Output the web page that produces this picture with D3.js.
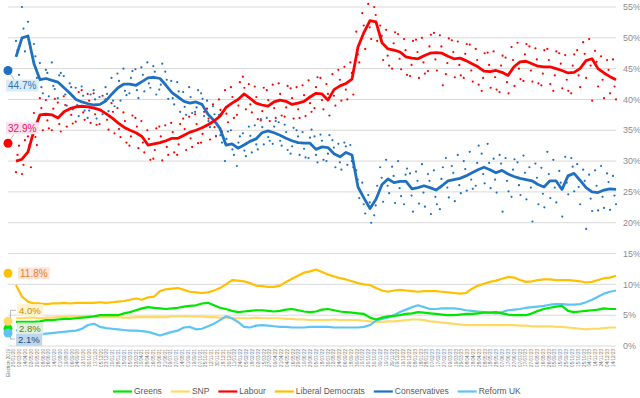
<!DOCTYPE html>
<html>
<head>
<meta charset="utf-8">
<script src="https://cdn.jsdelivr.net/npm/d3@7"></script>
<style>
body { margin: 0; background: #fff; }
text { font-family: "Liberation Sans", Arial, sans-serif; }
</style>
</head>
<body>
<div id="chart"></div>
<script>
const width = 640, height = 398;
const plot = { left: 8, right: 616, top: 7, bottom: 346 };

// tick labels along the bottom (one per block of polls)
const pollLabels = ['Election 2019',
    '20/01/20', '02/03/20', '14/04/20', '02/05/20', '20/05/20', '08/06/20', '26/06/20', '14/07/20', '01/08/20', '19/08/20',
    '06/09/20', '24/09/20', '12/10/20', '30/10/20', '17/11/20', '05/12/20', '23/12/20', '10/01/21', '28/01/21', '15/02/21',
    '05/03/21', '23/03/21', '10/04/21', '28/04/21', '16/05/21', '03/06/21', '21/06/21', '09/07/21', '27/07/21', '14/08/21',
    '01/09/21', '19/09/21', '07/10/21', '25/10/21', '12/11/21', '30/11/21', '18/12/21', '30/12/21', '11/01/22', '24/01/22',
    '05/02/22', '18/02/22', '02/03/22', '15/03/22', '27/03/22', '09/04/22', '21/04/22', '04/05/22', '16/05/22', '29/05/22',
    '10/06/22', '23/06/22', '05/07/22', '18/07/22', '30/07/22', '12/08/22', '24/08/22', '06/09/22', '18/09/22', '30/09/22',
    '10/10/22', '20/10/22', '30/10/22', '09/11/22', '19/11/22', '29/11/22', '09/12/22', '19/12/22', '29/12/22', '08/01/23',
    '18/01/23', '28/01/23', '07/02/23', '17/02/23', '27/02/23', '09/03/23', '19/03/23', '29/03/23', '08/04/23', '18/04/23',
    '28/04/23', '08/05/23', '18/05/23', '28/05/23', '07/06/23', '17/06/23', '27/06/23', '07/07/23', '17/07/23', '27/07/23',
    '06/08/23', '16/08/23', '26/08/23', '05/09/23', '15/09/23', '25/09/23', '05/10/23', '15/10/23', '25/10/23', '04/11/23',
    '14/11/23', '24/11/23', '04/12/23', '14/12/23'];

const yTicks = [0, 5, 10, 15, 20, 25, 30, 35, 40, 45, 50, 55];

// rolling averages (%), evenly spaced through the poll sequence
const conLine = [46.9, 50.0, 50.3, 45.8, 43.2, 43.4, 43.1, 42.8, 41.9, 41.0,
    40.0, 39.6, 39.3, 39.1, 39.2, 39.8, 40.9, 41.9, 42.5, 42.5,
    42.3, 42.9, 43.5, 43.6, 43.4, 42.3, 41.1, 40.4, 39.7, 39.4,
    39.6, 39.2, 37.6, 36.6, 35.3, 32.6, 32.8, 32.1, 32.6, 33.2,
    33.6, 34.6, 34.9, 34.6, 34.2, 33.7, 33.3, 33.0, 32.9, 32.9,
    31.9, 32.3, 32.2, 31.2, 30.7, 31.4, 31.0, 25.8, 24.0, 22.3,
    23.8, 26.2, 27.1, 26.5, 26.7, 26.7, 25.5, 25.7, 26.0, 25.7,
    25.3, 26.0, 26.8, 27.0, 27.2, 27.6, 28.1, 28.6, 29.0, 28.6,
    28.1, 28.5, 27.9, 27.5, 27.2, 27.0, 26.8, 26.2, 25.8, 26.8,
    26.8, 25.4, 27.6, 28.0, 26.9, 25.7, 25.0, 24.9, 25.3, 25.5,
    25.4];
const labLine = [30.0, 30.3, 31.5, 35.0, 37.5, 37.6, 37.5, 37.0, 38.0, 38.5,
    38.8, 38.9, 38.8, 38.6, 38.3, 37.7, 37.0, 36.2, 35.5, 35.0,
    34.6, 34.0, 32.6, 32.8, 33.0, 33.3, 33.7, 33.7, 34.2, 34.7,
    35.0, 35.4, 35.9, 36.5, 37.3, 38.7, 39.4, 40.0, 40.9, 40.2,
    39.4, 39.1, 38.9, 39.6, 39.9, 39.7, 39.2, 39.4, 39.7, 40.4,
    41.0, 40.9, 39.9, 41.6, 42.2, 42.6, 43.3, 48.5, 50.9, 52.8,
    52.6, 49.2, 48.2, 48.0, 47.7, 46.9, 46.7, 46.6, 47.1, 47.5,
    47.6, 47.5, 47.0, 46.6, 46.7, 46.3, 45.8, 45.3, 44.6, 44.5,
    44.7, 44.4, 43.9, 45.3, 46.1, 46.2, 45.8, 45.4, 45.3, 45.3,
    45.0, 44.7, 44.3, 44.4, 45.0, 46.3, 46.6, 45.0, 44.3, 43.7,
    43.2];
const ldLine = [9.9, 8.0, 7.2, 6.9, 6.9, 6.8, 6.9, 6.9, 7.0, 6.9,
    7.0, 7.0, 7.0, 7.0, 7.1, 7.0, 7.1, 7.2, 7.3, 7.5,
    7.7, 7.5, 7.9, 8.0, 8.9, 9.2, 9.3, 9.4, 9.1, 8.8,
    8.7, 8.6, 8.7, 9.0, 9.4, 10.0, 10.7, 10.6, 10.5, 10.2,
    9.8, 9.7, 9.6, 9.6, 9.8, 10.4, 10.9, 11.4, 11.9, 12.1,
    12.4, 12.0, 11.6, 11.3, 11.0, 10.8, 10.5, 10.2, 10.0, 9.9,
    9.4, 9.0, 8.8, 9.0, 9.1, 9.0, 8.9, 8.8, 8.9, 8.9,
    8.9, 8.8, 8.7, 8.6, 8.5, 8.6, 9.3, 9.8, 10.1, 10.4,
    10.6, 10.9, 11.2, 11.1, 10.7, 10.4, 10.5, 10.7, 10.8, 10.8,
    10.7, 10.7, 10.7, 10.6, 10.5, 10.3, 10.4, 10.7, 11.0, 11.1,
    11.4];
const greenLine = [3.9, 3.9, 3.9, 3.9, 4.0, 4.2, 4.2, 4.3, 4.4, 4.4,
    4.5, 4.6, 4.7, 4.8, 5.0, 5.0, 5.0, 5.0, 5.3, 5.5,
    5.8, 6.1, 6.3, 6.2, 6.1, 6.0, 6.1, 6.2, 6.4, 6.5,
    6.6, 6.9, 7.0, 6.6, 6.2, 6.0, 5.7, 5.5, 5.6, 5.7,
    5.8, 5.8, 5.7, 5.6, 5.7, 5.9, 6.0, 5.8, 5.6, 5.5,
    5.6, 5.9, 6.0, 5.8, 5.6, 5.5, 5.4, 5.3, 5.2, 4.6,
    4.3, 4.6, 4.8, 4.9, 5.0, 5.2, 5.3, 5.5, 5.4, 5.3,
    5.2, 5.1, 5.0, 5.0, 5.1, 5.2, 5.2, 5.3, 5.4, 5.4,
    5.5, 5.3, 5.1, 5.0, 5.0, 5.0, 5.3, 5.7, 6.0, 6.2,
    6.4, 6.5, 5.7, 5.5, 5.6, 5.7, 5.8, 5.9, 6.1, 6.0,
    6.0];
const snpLine = [4.5, 4.5, 4.6, 4.6, 4.5, 4.6, 4.6, 4.7, 4.7, 4.8,
    4.8, 4.8, 4.9, 4.8, 4.7, 4.7, 4.7, 4.7, 4.6, 4.6,
    4.7, 4.7, 4.7, 4.7, 4.7, 4.7, 4.8, 4.8, 4.8, 4.8,
    4.8, 4.8, 4.7, 4.7, 4.6, 4.6, 4.5, 4.5, 4.5, 4.5,
    4.6, 4.5, 4.5, 4.5, 4.5, 4.4, 4.4, 4.3, 4.3, 4.2,
    4.2, 4.2, 4.2, 4.3, 4.2, 4.2, 4.2, 4.2, 4.1, 4.0,
    3.9, 3.9, 4.0, 4.0, 4.1, 4.2, 4.3, 4.3, 4.2, 4.0,
    3.9, 3.8, 3.7, 3.6, 3.5, 3.4, 3.4, 3.4, 3.4, 3.4,
    3.4, 3.4, 3.4, 3.4, 3.3, 3.3, 3.2, 3.2, 3.2, 3.2,
    3.1, 3.1, 3.0, 2.9, 2.8, 2.7, 2.8, 2.8, 2.9, 3.0,
    3.0];
const reformLine = [2.6, 2.2, 1.9, 1.8, 1.9, 2.0, 2.1, 2.2, 2.3, 2.4,
    2.5, 2.8, 3.4, 3.6, 3.1, 2.9, 2.8, 2.7, 2.6, 2.5,
    2.5, 2.4, 2.3, 2.0, 1.7, 2.0, 2.3, 2.5, 3.0, 3.1,
    2.7, 2.8, 3.2, 3.6, 4.2, 4.8, 4.5, 3.9, 3.1, 3.0,
    3.3, 3.4, 3.3, 3.2, 3.1, 3.1, 3.0, 3.0, 3.0, 3.1,
    3.1, 3.1, 3.1, 3.0, 3.0, 3.0, 3.0, 3.0, 3.1, 3.4,
    4.1, 4.4, 4.6, 5.0, 5.5, 5.9, 6.3, 6.6, 6.3, 6.0,
    6.0, 6.1, 6.1, 6.1, 6.0, 5.8, 5.7, 5.6, 5.5, 5.4,
    5.3, 5.5, 5.8, 5.9, 6.0, 6.2, 6.3, 6.4, 6.5, 6.7,
    6.8, 6.8, 6.7, 6.7, 6.8, 7.1, 7.5, 8.0, 8.5, 8.8,
    9.0];

// individual polls (%), evenly spaced through the poll sequence
const conDots = [49.5, 44.0, 55.0, 47.8, 52.6, 48.1, 49.0, 43.5, 45.9, 41.0,
    44.8, 40.5, 46.0, 41.7, 40.2, 44.3, 43.8, 39.0, 42.6, 38.4,
    41.9, 37.3, 42.1, 38.2, 37.0, 40.8, 41.5, 36.9, 40.4, 37.6,
    42.0, 38.1, 43.5, 38.9, 44.2, 39.8, 45.0, 40.7, 41.0, 44.6,
    44.9, 40.2, 45.2, 41.3, 46.0, 41.9, 45.4, 40.8, 41.6, 45.8,
    44.5, 40.1, 43.0, 39.2, 42.8, 38.0, 41.2, 37.5, 42.0, 37.8,
    38.0, 41.5, 41.0, 37.3, 39.8, 35.5, 38.9, 34.1, 37.5, 33.0,
    30.0, 34.8, 35.0, 31.0, 29.2, 34.0, 34.5, 30.8, 35.6, 31.4,
    35.8, 31.9, 36.8, 32.7, 37.0, 33.3, 32.8, 36.5, 36.3, 32.5,
    35.9, 31.8, 31.2, 35.4, 35.0, 31.0, 34.7, 30.6, 30.5, 35.1,
    34.0, 29.8, 34.3, 30.2, 30.0, 34.2, 33.4, 29.0, 32.8, 28.6,
    33.0, 29.4, 32.6, 29.0, 28.5, 24.0, 26.5, 21.5, 24.5, 20.0,
    21.2, 26.0, 29.0, 23.4, 30.2, 24.8, 29.1, 23.2, 30.0, 24.3,
    23.0, 28.8, 28.0, 21.8, 28.3, 23.1, 29.5, 22.6, 27.9, 21.4,
    28.5, 23.0, 22.2, 29.0, 30.5, 24.1, 29.2, 23.5, 31.0, 24.8,
    30.0, 25.2, 31.5, 25.5, 26.0, 32.5, 31.2, 26.4, 32.8, 25.6,
    30.4, 24.9, 31.0, 21.8, 30.5, 25.1, 24.2, 30.3, 29.8, 24.5,
    30.9, 23.8, 29.0, 20.2, 29.6, 23.0, 28.9, 22.5, 31.5, 24.0,
    30.2, 23.3, 28.4, 21.0, 30.7, 24.6, 30.5, 25.1, 29.5, 23.0,
    28.6, 19.0, 27.8, 21.9, 28.5, 22.0, 29.2, 22.4, 28.0, 22.1,
    27.6, 23.0];
const conNear = [48.0, 51.5, 49.2, 47.0, 42.0, 44.3, 42.2, 43.9, 40.8, 42.0,
    39.1, 40.6, 38.2, 40.0, 38.3, 40.9, 39.8, 43.0, 41.4, 43.5,
    41.5, 44.0, 42.6, 44.5, 42.4, 43.2, 40.2, 41.3, 38.8, 40.4,
    38.7, 40.1, 36.5, 37.6, 34.2, 33.6, 31.9, 33.0, 31.7, 34.1,
    32.7, 35.5, 33.9, 35.6, 33.3, 34.7, 32.4, 34.0, 32.0, 33.8,
    31.0, 33.3, 31.2, 32.2, 29.8, 32.4, 30.0, 27.0, 23.0, 23.3,
    22.8, 27.3, 26.0, 27.6, 25.6, 27.8, 24.4, 26.8, 24.9, 26.8,
    24.2, 27.1, 25.7, 28.1, 26.1, 28.7, 27.0, 29.7, 27.9, 29.7,
    27.0, 29.6, 26.8, 28.6, 26.1, 28.1, 25.7, 27.3, 24.7, 27.9,
    25.7, 26.5, 26.5, 29.1, 25.8, 26.8, 23.9, 26.0, 24.2, 26.6,
    24.4];
const labDots = [28.2, 32.5, 27.9, 33.4, 34.0, 29.0, 37.8, 32.6, 40.2, 35.0,
    39.9, 35.3, 35.0, 40.1, 39.5, 34.8, 40.5, 35.6, 41.0, 36.1,
    36.4, 41.2, 41.5, 36.7, 40.9, 36.2, 41.0, 35.9, 36.0, 40.6,
    40.0, 35.1, 39.4, 34.5, 38.6, 33.9, 37.9, 33.0, 32.5, 37.4,
    37.0, 32.1, 36.5, 31.4, 35.0, 30.2, 30.4, 35.3, 35.6, 30.1,
    35.8, 31.0, 36.2, 31.4, 31.0, 36.0, 36.9, 31.8, 37.2, 32.3,
    37.6, 32.9, 33.0, 38.0, 38.5, 33.5, 39.2, 34.0, 40.0, 34.8,
    41.5, 36.3, 42.0, 37.0, 37.5, 42.8, 43.7, 38.4, 42.5, 37.9,
    42.1, 36.8, 36.6, 41.9, 41.5, 36.5, 42.4, 37.0, 42.6, 37.4,
    37.2, 42.2, 41.8, 36.9, 42.0, 37.0, 42.3, 37.3, 43.1, 38.0,
    38.6, 43.6, 43.5, 38.4, 42.5, 37.4, 44.1, 39.0, 44.8, 39.8,
    45.3, 40.0, 46.0, 40.8, 51.0, 46.0, 54.0, 48.2, 55.5, 49.8,
    55.0, 49.5, 52.0, 46.4, 51.3, 45.5, 45.0, 50.9, 50.6, 44.9,
    49.8, 44.0, 43.8, 49.5, 49.7, 43.5, 50.0, 44.2, 44.6, 50.5,
    50.8, 44.7, 50.4, 42.3, 44.1, 49.9, 49.6, 43.6, 49.4, 43.9,
    43.5, 49.0, 48.9, 42.9, 48.2, 42.4, 41.4, 47.5, 47.6, 41.9,
    47.8, 41.6, 41.2, 47.1, 46.8, 41.0, 48.5, 42.2, 49.2, 43.3,
    43.0, 49.0, 48.6, 42.9, 48.3, 42.6, 42.3, 48.0, 48.2, 42.5,
    41.4, 47.8, 47.5, 41.8, 47.2, 41.4, 41.0, 47.3, 48.0, 42.0,
    49.3, 43.5, 49.8, 39.8, 47.9, 42.1, 47.0, 40.2, 46.4, 41.0,
    46.5, 40.0];
const labNear = [31.0, 29.4, 32.6, 33.9, 38.6, 36.6, 38.5, 36.0, 39.1, 37.5,
    39.9, 37.9, 39.8, 37.6, 39.3, 36.7, 38.0, 35.2, 36.5, 34.0,
    35.6, 33.0, 33.6, 31.8, 34.0, 32.3, 34.7, 32.7, 35.2, 33.7,
    36.0, 34.4, 36.9, 35.5, 38.3, 37.7, 40.4, 39.0, 41.9, 39.2,
    40.4, 38.1, 39.9, 38.6, 40.9, 38.7, 40.2, 38.4, 40.7, 39.4,
    42.0, 39.9, 40.9, 40.6, 43.2, 41.6, 44.3, 47.3, 52.0, 51.7,
    53.7, 50.3, 47.1, 49.1, 46.6, 48.0, 45.6, 47.7, 46.0, 48.6,
    46.5, 48.6, 45.9, 47.7, 45.6, 47.4, 44.7, 46.4, 43.5, 45.6,
    43.6, 45.5, 42.8, 46.4, 45.0, 47.3, 44.7, 46.5, 44.2, 46.4,
    43.9, 45.8, 43.2, 45.5, 43.9, 47.4, 45.5, 46.1, 43.2, 44.8,
    42.1];

const partyNames = ['Greens', 'SNP', 'Labour', 'Liberal Democrats', 'Conservatives', 'Reform UK'];
const partyColors = ['#00e600', '#ffd966', '#ff0000', '#ffc000', '#1f70c1', '#5ec4f4'];
const partyLines = [greenLine, snpLine, labLine, ldLine, conLine, reformLine];
const electionValues = [2.8, 4.0, 32.9, 11.8, 44.7, 2.1];

const yScale = d3.scaleLinear().domain([0, 55]).range([plot.bottom, plot.top]);
const labelScale = d3.scalePoint().domain(pollLabels).range([plot.left, 613]);
const lineX = d3.scaleLinear().domain([0, conLine.length - 1]).range([16, plot.right]);
const dotX = d3.scaleLinear().domain([0, conDots.length - 1]).range([16, plot.right]);
const nearX = d3.scaleLinear().domain([0, conNear.length - 1]).range([17.5, plot.right - 1.5]);

const svg = d3.select('#chart').append('svg')
    .attr('width', width)
    .attr('height', height);

svg.append('rect').attr('width', width).attr('height', height).attr('fill', '#fff');

// gridlines and right-hand percentages
svg.append('g').selectAll('line')
    .data(yTicks)
    .enter().append('line')
    .attr('x1', plot.left).attr('x2', plot.right)
    .attr('y1', d => yScale(d)).attr('y2', d => yScale(d))
    .attr('stroke', '#d9d9d9')
    .attr('stroke-width', 1);

svg.append('g').selectAll('text')
    .data(yTicks)
    .enter().append('text')
    .attr('x', 623)
    .attr('y', d => yScale(d))
    .attr('dy', '0.35em')
    .attr('font-size', 9)
    .attr('fill', '#8c8c8c')
    .text(d => d + '%');

// rotated poll date labels
svg.append('g').selectAll('text')
    .data(pollLabels)
    .enter().append('text')
    .attr('transform', d => `translate(${labelScale(d) + 1.6},349) rotate(-90)`)
    .attr('text-anchor', 'end')
    .attr('font-size', 4.6)
    .attr('fill', '#737373')
    .text(d => d);

// poll dots
function drawDots(values, xs, color) {
    svg.append('g').selectAll('circle')
        .data(values)
        .enter().append('circle')
        .attr('cx', (d, i) => xs(i))
        .attr('cy', d => yScale(d))
        .attr('r', 1.1)
        .attr('fill', color);
}
drawDots(labDots, dotX, partyColors[2]);
drawDots(labNear, nearX, partyColors[2]);
drawDots(conDots, dotX, partyColors[4]);
drawDots(conNear, nearX, partyColors[4]);

// trend lines
const line = d3.line()
    .x((d, i) => lineX(i))
    .y(d => yScale(d));

const drawOrder = [1, 5, 0, 3, 4, 2];
drawOrder.forEach(p => {
    svg.append('path')
        .datum(partyLines[p])
        .attr('d', line)
        .attr('fill', 'none')
        .attr('stroke', partyColors[p])
        .attr('stroke-width', (p === 2 || p === 4) ? 2.8 : 2.2)
        .attr('stroke-linejoin', 'round');
});

// 2019 election results
const labelStyle = [
    { fill: '#e2f0d9', text: '#548235', dx: 8, dy: 0, size: 9.5 },
    { fill: '#fff2cc', text: '#bf9000', dx: 8, dy: -11, size: 9.5 },
    { fill: '#fde0ef', text: '#e8175d', dx: -3, dy: -15, size: 10 },
    { fill: '#fbe5d6', text: '#ed7d31', dx: 9, dy: 0, size: 10 },
    { fill: '#ddebf7', text: '#2e75b6', dx: -3, dy: 15, size: 10 },
    { fill: '#bdd7ee', text: '#1f4e79', dx: 7, dy: 7, size: 9.5 }
];

// leader lines
svg.append('path')
    .attr('d', `M16,${yScale(4.0) - 11}H10.5V${yScale(2.1) + 6}H15`)
    .attr('fill', 'none').attr('stroke', '#a6a6a6').attr('stroke-width', 0.8);
svg.append('line')
    .attr('x1', 8).attr('y1', yScale(44.7)).attr('x2', 14).attr('y2', yScale(44.7) + 9)
    .attr('stroke', '#a6a6a6').attr('stroke-width', 0.8);
svg.append('line')
    .attr('x1', 8).attr('y1', yScale(32.9)).attr('x2', 14).attr('y2', yScale(32.9) - 9)
    .attr('stroke', '#a6a6a6').attr('stroke-width', 0.8);

electionValues.forEach((v, i) => {
    const s = labelStyle[i];
    const g = svg.append('g');
    const t = g.append('text')
        .attr('x', plot.left + s.dx + 3)
        .attr('y', yScale(v) + s.dy)
        .attr('dy', '0.35em')
        .attr('font-size', s.size)
        .attr('fill', s.text)
        .text(v.toFixed(1) + '%');
    const bb = t.node().getBBox();
    g.insert('rect', 'text')
        .attr('x', bb.x - 2).attr('y', bb.y - 0.5)
        .attr('width', bb.width + 4).attr('height', bb.height + 1)
        .attr('fill', s.fill);
});

electionValues.forEach((v, i) => {
    svg.append('circle')
        .attr('cx', plot.left)
        .attr('cy', yScale(v))
        .attr('r', 4.5)
        .attr('fill', partyColors[i]);
});

// legend
const legend = svg.append('g');
let lx = 113;
partyNames.forEach((name, i) => {
    legend.append('line')
        .attr('x1', lx).attr('x2', lx + 19)
        .attr('y1', 391.5).attr('y2', 391.5)
        .attr('stroke', partyColors[i])
        .attr('stroke-width', 2.2);
    const t = legend.append('text')
        .attr('x', lx + 21)
        .attr('y', 391.5)
        .attr('dy', '0.35em')
        .attr('font-size', 8.5)
        .attr('fill', '#595959')
        .text(name);
    lx += 21 + t.node().getComputedTextLength() + 9;
});
</script>
</body>
</html>
